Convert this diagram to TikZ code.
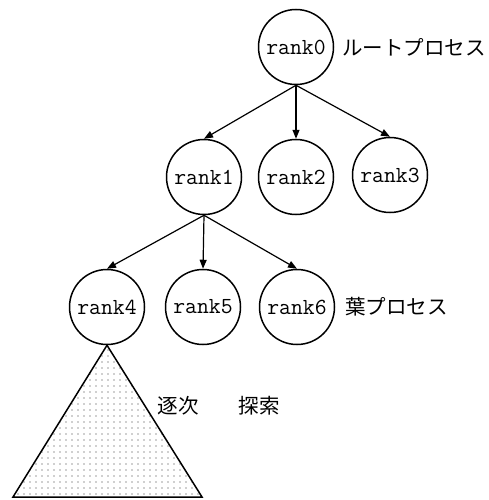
\documentclass[tikz,border=0pt]{standalone}
\usepackage{fontspec}
\newfontfamily\jp{Noto Sans CJK JP}
\usetikzlibrary{arrows.meta,patterns.meta}
\begin{document}
\begin{tikzpicture}[x=1pt,y=-1pt,
  rank/.style={draw,circle,line width=1.5pt,minimum size=75pt,inner sep=0pt,font=\fontsize{23}{26}\selectfont\ttfamily},
  lbl/.style={font=\fontsize{20.5}{24}\selectfont\jp,inner sep=0pt},
  edge/.style={line width=1.2pt,-{Triangle[length=9pt,width=7pt]}}]
\useasboundingbox (0,0) rectangle (489,500);
\node[rank] (r0) at (296,47) {rank0};
\node[rank] (r1) at (204,177) {rank1};
\node[rank] (r2) at (296,177) {rank2};
\node[rank] (r3) at (390,175) {rank3};
\node[rank] (r4) at (107,307) {rank4};
\node[rank] (r5) at (203,307) {rank5};
\node[rank] (r6) at (297,307) {rank6};
\node[lbl,anchor=west] (l0) at (342,47) {ルートプロセス};
\node[lbl,anchor=west] (l1) at (345,307) {葉プロセス};
\node[lbl] (l2) at (178,406) {逐次};
\node[lbl] (l3) at (259,406) {探索};
\foreach \c in {r1,r2,r3} \draw[edge] (r0.south) -- (\c.north);
\foreach \c in {r4,r5,r6} \draw[edge] (r1.south) -- (\c.north);
\coordinate (bl) at (13,497);
\coordinate (br) at (202,497);
\draw[line width=1.5pt,line join=miter,pattern={Dots[distance=6pt,radius=0.6pt]},pattern color=black!80]
  (r4.south) -- (br) -- (bl) -- cycle;
\end{tikzpicture}
\end{document}
